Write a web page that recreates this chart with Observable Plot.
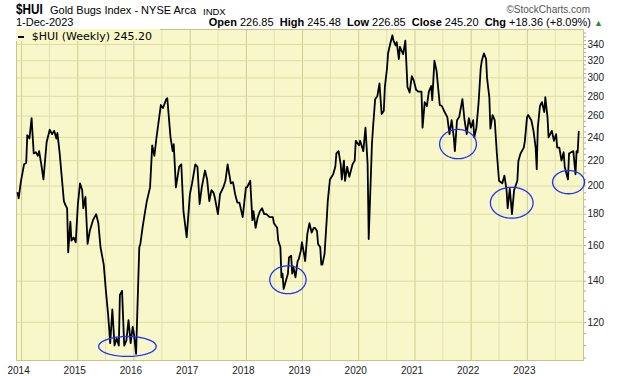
<!DOCTYPE html>
<html><head><meta charset="utf-8">
<script src="https://cdn.jsdelivr.net/npm/d3@7"></script>
<script src="https://cdn.jsdelivr.net/npm/@observablehq/plot@0.6"></script>
<style>
body{margin:0;background:#fff;}
#wrap{position:relative;width:620px;height:376px;font-family:"Liberation Sans",Arial,sans-serif;color:#000;}
#hdr{position:relative;width:620px;height:28px;}
#hdr div{position:absolute;white-space:pre;}
#chart svg{display:block;}
#legend{position:absolute;left:16px;top:29px;width:144px;height:12px;background:#f8f7c9;}
</style></head><body>
<div id="wrap">
  <div id="hdr">
    <div style="left:16px;top:2px;font-size:15px;line-height:14px;font-weight:bold;transform:scaleX(0.78);transform-origin:left top;">$HUI</div>
    <div style="left:50px;top:5px;font-size:11px;line-height:11px;">Gold Bugs Index - NYSE Arca</div>
    <div style="left:203px;top:6.5px;font-size:9.5px;line-height:9.5px;">INDX</div>
    <div style="right:30px;top:5px;font-size:10px;line-height:10px;color:#555;">©StockCharts.com</div>
    <div style="left:16px;top:17.3px;font-size:11px;line-height:10px;">1-Dec-2023</div>
    <div style="right:17px;top:17.3px;font-size:11px;line-height:10px;"><b>Open</b> 226.85  <b>High</b> 245.48  <b>Low</b> 226.85  <b>Close</b> 245.20  <b>Chg</b> +18.36 (+8.09%) <span style="color:#2a8a2a;font-size:9px;">▲</span></div>
  </div>
  <div id="chart"></div>
  <div id="legend">
    <div style="position:absolute;left:2px;top:6.5px;width:6px;height:2px;background:#000;"></div>
    <div style="position:absolute;left:15.7px;top:2px;font-family:'DejaVu Sans',sans-serif;font-size:11px;line-height:11px;white-space:pre;color:#000;">$HUI (Weekly) 245.20</div>
  </div>
</div>
<script>
const dates = [
"2013-12-06","2013-12-13","2013-12-27","2014-01-17","2014-01-31","2014-02-07","2014-02-21","2014-03-07","2014-03-21","2014-04-04",
"2014-04-17","2014-04-25","2014-05-09","2014-05-23","2014-06-13","2014-07-03","2014-07-18","2014-08-01","2014-08-15","2014-08-22",
"2014-09-05","2014-09-19","2014-10-03","2014-10-10","2014-10-24","2014-10-31","2014-11-14","2014-11-21","2014-12-05","2014-12-19",
"2015-01-02","2015-01-16","2015-01-30","2015-02-06","2015-02-20","2015-03-06","2015-03-20","2015-04-10","2015-05-01","2015-05-15",
"2015-05-29","2015-06-19","2015-07-03","2015-07-17","2015-07-31","2015-08-14","2015-08-28","2015-09-11","2015-09-25","2015-10-02",
"2015-10-16","2015-10-30","2015-11-13","2015-11-27","2015-12-11","2015-12-24","2016-01-01","2016-01-15","2016-02-05","2016-02-12",
"2016-02-26","2016-03-11","2016-03-25","2016-04-15","2016-04-29","2016-05-13","2016-05-27","2016-06-24","2016-07-08","2016-07-29",
"2016-08-05","2016-08-26","2016-09-09","2016-09-16","2016-09-30","2016-10-21","2016-11-04","2016-11-18","2016-12-09","2016-12-30",
"2017-01-13","2017-02-03","2017-02-17","2017-03-03","2017-03-17","2017-04-07","2017-04-21","2017-05-05","2017-05-19","2017-06-02",
"2017-06-09","2017-06-30","2017-07-14","2017-08-04","2017-08-18","2017-09-01","2017-09-22","2017-10-06","2017-10-20","2017-11-03",
"2017-11-17","2017-12-08","2017-12-29","2018-01-05","2018-01-26","2018-02-09","2018-02-16","2018-03-02","2018-03-16","2018-03-30",
"2018-04-13","2018-04-27","2018-05-11","2018-06-01","2018-06-22","2018-06-29","2018-07-20","2018-07-27","2018-08-10","2018-08-17",
"2018-08-24","2018-08-31","2018-09-14","2018-09-28","2018-10-05","2018-10-19","2018-10-26","2018-11-02","2018-11-16","2018-11-30",
"2018-12-07","2018-12-21","2018-12-28","2019-01-11","2019-01-18","2019-02-01","2019-02-15","2019-03-01","2019-03-15","2019-03-22",
"2019-04-05","2019-04-12","2019-04-26","2019-05-03","2019-05-10","2019-05-24","2019-06-07","2019-06-14","2019-06-28","2019-07-19",
"2019-08-02","2019-08-09","2019-08-23","2019-09-06","2019-09-13","2019-09-27","2019-10-04","2019-10-18","2019-11-01","2019-11-22",
"2019-12-06","2019-12-13","2020-01-03","2020-01-10","2020-01-24","2020-01-31","2020-02-14","2020-02-28","2020-03-06","2020-03-27",
"2020-04-03","2020-04-17","2020-05-01","2020-05-15","2020-05-29","2020-06-12","2020-06-19","2020-07-03","2020-07-10","2020-07-24",
"2020-08-07","2020-08-14","2020-08-28","2020-09-04","2020-09-18","2020-09-25","2020-10-16","2020-10-30","2020-11-13","2020-11-27",
"2020-12-11","2020-12-24","2021-01-08","2021-01-22","2021-02-12","2021-02-19","2021-03-05","2021-03-19","2021-04-01","2021-04-16",
"2021-04-23","2021-05-07","2021-05-21","2021-06-11","2021-06-25","2021-07-09","2021-07-30","2021-08-13","2021-08-27","2021-09-10",
"2021-09-17","2021-10-01","2021-10-15","2021-11-05","2021-11-19","2021-12-03","2021-12-17","2021-12-31","2022-01-14","2022-01-21",
"2022-02-04","2022-02-18","2022-03-04","2022-03-11","2022-03-25","2022-04-08","2022-04-14","2022-04-29","2022-05-06","2022-05-20",
"2022-06-03","2022-06-17","2022-07-01","2022-07-22","2022-08-05","2022-08-19","2022-08-26","2022-09-09","2022-09-23","2022-10-07",
"2022-10-28","2022-11-04","2022-11-18","2022-12-09","2022-12-16","2022-12-30","2023-01-06","2023-01-27","2023-02-10","2023-02-24",
"2023-03-03","2023-03-10","2023-03-24","2023-04-06","2023-04-21","2023-04-28","2023-05-12","2023-05-19","2023-06-09","2023-06-23",
"2023-07-07","2023-07-14","2023-07-28","2023-08-11","2023-08-25","2023-09-01","2023-09-22","2023-09-29","2023-10-13","2023-10-27",
"2023-11-10","2023-11-17","2023-11-24","2023-12-01"
];
const closes = [
195,191,203,217,218,242,239,258,226,227,
224,228,217,205,236,247,243,246,239,244,
227,207,189,187,184,156,175,163,165,162,
187,202,197,184,192,161,169,176,180,174,
159,149,135,124,111,126,110,113,110,133,
135,110,112,121,111,118,115,106.6,159,161,
171,180,189,199,233,224,240,271,268,277,
278,240,228,234,199,215,217,182,165,194,
202,217,215,187,199,212,205,189,197,195,
192,180,194,199,204,217,202,203,194,188,
188,178,199,199,204,176,182,171,178,182,
184,180,180,178,178,174,171,163,159,142,
144,136,140,144,153,154,144,148,142,151,
152,157,162,155,151,167,174,168,171,171,
169,161,159,149,149,155,176,189,205,209,
215,226,228,217,205,220,204,215,207,217,
220,237,233,237,231,228,249,217,164,234,
249,277,280,294,262,265,290,311,329,341,
352,345,339,343,322,337,328,345,290,284,
302,297,287,285,285,249,274,270,285,291,
276,320,308,271,270,265,259,243,256,240,
228,256,259,277,256,243,258,249,256,240,
249,273,311,320,329,322,300,279,248,261,
256,226,204,202,208,197,184,198,180,197,
204,220,226,231,237,259,261,256,246,231,
213,249,270,274,264,279,259,240,246,237,
243,231,231,220,227,215,205,226,227,228,
209,228,226.85,245.20
];
const yTicks = [120,140,160,180,200,220,240,260,280,300,320,340];
const yearLabels = ["2014","2015","2016","2017","2018","2019","2020","2021","2022","2023"];
// circled lows: date span and value span of each ellipse
const ellStart = ["2015-05-17","2018-06-02","2021-06-10","2022-05-06","2023-06-14"];
const ellEnd   = ["2016-05-25","2019-01-24","2022-02-04","2023-02-07","2024-01-08"];
const ellLow   = [105.6,133.6,221.6,177.3,194.3];
const ellHigh  = [113.8,148.3,247.3,199.1,212.0];

const parse = d3.utcParse("%Y-%m-%d");
const series = dates.map((d,i)=>({date: parse(d), close: closes[i]}));
const yearTicks = yearLabels.map(y=>parse(y+"-01-01"));
const midTicks = yearLabels.map(y=>parse(y+"-07-01"));
const minorTicks = d3.range(105, 360, 5);
const ellipses = [];
ellStart.forEach((s,i)=>{
  const t0=+parse(s), t1=+parse(ellEnd[i]);
  const tc=(t0+t1)/2, a=(t1-t0)/2;
  const l0=Math.log(ellLow[i]), l1=Math.log(ellHigh[i]);
  const lc=(l0+l1)/2, b=(l1-l0)/2;
  for(let k=0;k<90;k++){
    const th=k/90*2*Math.PI;
    ellipses.push({id:i, date:new Date(tc+a*Math.cos(th)), v:Math.exp(lc+b*Math.sin(th))});
  }
});

const chart = Plot.plot({
  width:620, height:348,
  marginLeft:16, marginRight:37, marginTop:1, marginBottom:16,
  style:{fontFamily:"'Liberation Sans',Arial,sans-serif", fontSize:"10px", color:"#111", background:"transparent", overflow:"visible"},
  x:{type:"utc", domain:[parse("2013-11-29"), parse("2024-01-01")]},
  y:{type:"log", domain:[104, 359.7]},
  marks:[
    Plot.frame({fill:"#f8f7c9"}),
    Plot.gridX(midTicks, {stroke:"#e3e2ae", strokeOpacity:1}),
    Plot.gridX(yearTicks, {stroke:"#cdcc92", strokeOpacity:1}),
    Plot.gridY(yTicks, {stroke:"#dddca5", strokeOpacity:1}),
    Plot.frame({stroke:"#c6c58c"}),
    Plot.axisY(minorTicks, {anchor:"right", tickSize:2, stroke:"#a8a8a8", tickFormat:()=>""}),
    Plot.axisY(yTicks, {anchor:"right", tickSize:0, tickPadding:4, fontSize:10, fill:"#222"}),
    Plot.axisX(yearTicks, {anchor:"bottom", tickSize:0, tickPadding:6, tickFormat:d3.utcFormat("%Y"), fontSize:10, fill:"#222", dx:-3}),
    Plot.line(series, {x:"date", y:"close", stroke:"#000", strokeWidth:1.8}),
    Plot.line(ellipses, {x:"date", y:"v", z:"id", curve:"linear-closed", stroke:"#1f2fff", strokeWidth:1.3})
  ]
});
document.getElementById("chart").appendChild(chart);
</script>
</body></html>
